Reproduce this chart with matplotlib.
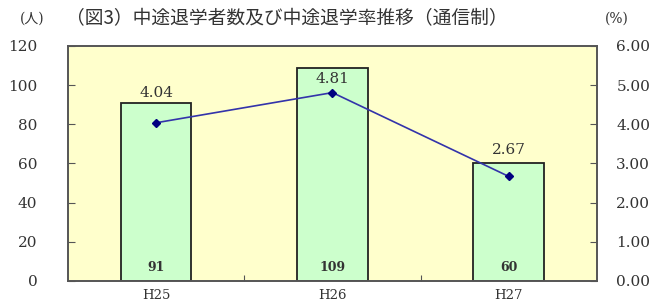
import matplotlib as mpl
mpl.use('Agg')
import numpy as np
import matplotlib.pyplot as plt
import matplotlib.transforms as mtrans

plt.rcParams['font.family'] = ['DejaVu Serif', 'Noto Sans CJK JP']

#=============
# Data
#=============
years = ['H25', 'H26', 'H27']
dropouts = [91, 109, 60]          # 中途退学者数 (人)
rates = [4.04, 4.81, 2.67]        # 中途退学率 (%)
rate_label_y = [96, 103, 67]      # label heights on the left scale

title = '（図3）中途退学者数及び中途退学率推移（通信制）'

bgYellow = '#FFFFCC'
barGreen = '#CCFFCC'
lineBlue = '#3333AA'
markNavy = '#000080'
textCol = '#333333'

fig = plt.figure(figsize=(6.57, 3.04), dpi=100)
ax = fig.add_axes([0.1035, 0.0757, 0.805, 0.773])
ax.set_facecolor(bgYellow)

ind = np.arange(len(years))
ax.bar(ind, dropouts, 0.4, color=barGreen, edgecolor='#222222', linewidth=1.3, zorder=2)
for i, v in enumerate(dropouts):
    ax.text(ind[i], 7, str(v), ha='center', va='center', fontsize=9, fontweight='semibold',
            color=textCol, zorder=5)

ax.set_xlim(-0.5, 2.5)
ax.set_ylim(0, 120)
ax.set_yticks(np.arange(0, 121, 20))
ax.set_xticks([0.5, 1.5])
ax.set_xticklabels([])
ax.tick_params(axis='x', direction='in', length=4, color='#555555')
ax.tick_params(axis='y', direction='in', length=5, color='#555555', labelsize=11, labelcolor=textCol, pad=22)
for lab in ax.get_yticklabels():
    lab.set_horizontalalignment('right')
for s in ax.spines.values():
    s.set_color('#555555')
    s.set_linewidth(1.2)

# category labels just under the axis (bottom edge of the figure)
trans = mtrans.blended_transform_factory(ax.transData, fig.transFigure)
for i, yr in enumerate(years):
    ax.text(ind[i], 0.008, yr, transform=trans, ha='center', va='bottom',
            fontsize=9.5, color=textCol, clip_on=False)

ax2 = ax.twinx()
ax2.plot(ind, rates, color=lineBlue, linewidth=1.2, marker='D', markersize=4,
         mfc=markNavy, mec=markNavy, zorder=4)
ax2.set_ylim(0, 6)
ax2.set_yticks(np.arange(0, 6.01, 1))
ax2.set_yticklabels(['%.2f' % t for t in np.arange(0, 6.01, 1)])
ax2.tick_params(axis='y', direction='in', length=5, color='#555555', labelsize=11, labelcolor=textCol, pad=14)
for s in ax2.spines.values():
    s.set_color('#555555')
    s.set_linewidth(1.2)

for i, r in enumerate(rates):
    ax.text(ind[i], rate_label_y[i], '%.2f' % r, ha='center', va='center', fontsize=11,
            color=textCol, zorder=6)

fig.text(0.030, 0.94, '(人)', fontsize=10, color=textCol, va='center')
fig.text(0.920, 0.94, '(%)', fontsize=10, color=textCol, va='center')
fig.text(0.100, 0.94, title, fontsize=13.5, color=textCol, va='center',
         family=['Noto Sans CJK JP', 'DejaVu Sans'])

fig.savefig('out.png', dpi=100)
